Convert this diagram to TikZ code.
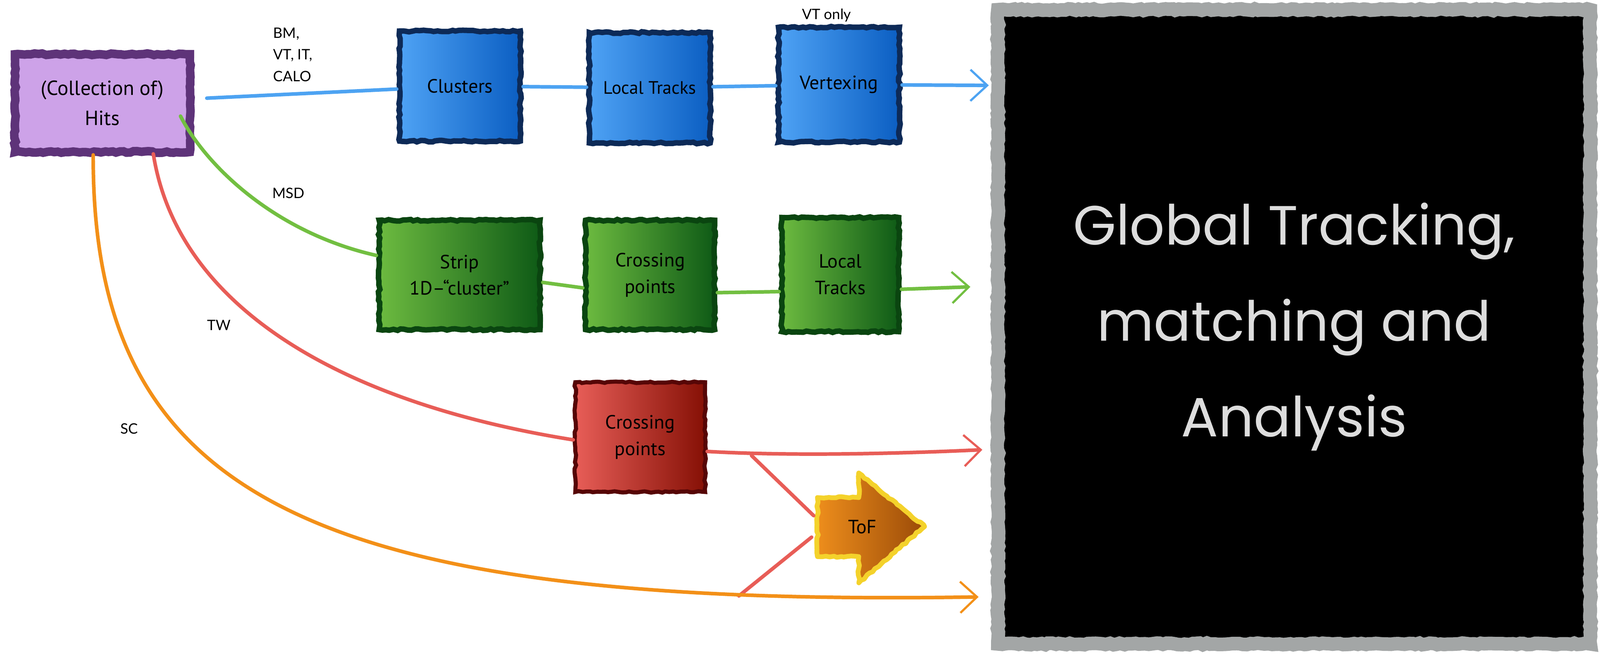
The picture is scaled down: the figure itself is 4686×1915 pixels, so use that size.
\documentclass[tikz,border=0pt]{standalone}
\usepackage{fontspec}
\setmainfont{PT Sans}
\newfontfamily\labelfont{Lato}
\newfontfamily\chalkfont{Poppins}
\usetikzlibrary{arrows.meta,decorations.pathmorphing,calc}
\definecolor{hitsfill}{HTML}{CDA2E8}
\definecolor{hitsborder}{HTML}{5E3379}
\definecolor{bluel}{HTML}{4FA3F5}
\definecolor{bluer}{HTML}{0B5EC2}
\definecolor{blueborder}{HTML}{0D2A57}
\definecolor{blueline}{HTML}{4DA3F2}
\definecolor{greenl}{HTML}{6DBB40}
\definecolor{greenr}{HTML}{0E5A16}
\definecolor{greenborder}{HTML}{0A4510}
\definecolor{greenline}{HTML}{72BF41}
\definecolor{redl}{HTML}{E85E58}
\definecolor{redr}{HTML}{851005}
\definecolor{redborder}{HTML}{560606}
\definecolor{redline}{HTML}{E85D57}
\definecolor{tofl}{HTML}{EE8E1C}
\definecolor{tofr}{HTML}{9B4B08}
\definecolor{tofborder}{HTML}{F4D22B}
\definecolor{orangeline}{HTML}{F39018}
\definecolor{framegray}{HTML}{A3A6A6}
\definecolor{chalk}{HTML}{DDDDDD}
\begin{document}
\begin{tikzpicture}[x=0.01cm,y=-0.01cm,
  rough/.style={decorate,decoration={random steps,segment length=3pt,amplitude=0.7pt}},
  box/.style={rough,shape=rectangle,align=center,text=black,inner sep=0pt,
    font=\fontsize{16}{22}\selectfont},
  hitsbox/.style={box,fill=hitsfill,draw=hitsborder,line width=0.25cm,
    minimum width=5.12cm,minimum height=2.86cm,font=\fontsize{17}{25}\selectfont},
  bluebox/.style={box,left color=bluel,right color=bluer,draw=blueborder,line width=0.16cm,
    minimum width=3.54cm,minimum height=3.22cm},
  greenbox/.style={box,left color=greenl,right color=greenr,draw=greenborder,line width=0.16cm,
    minimum width=3.78cm,minimum height=3.20cm},
  redbox/.style={box,left color=redl,right color=redr,draw=redborder,line width=0.12cm,
    minimum width=3.80cm,minimum height=3.21cm},
  tofshape/.style={rough,left color=tofl,right color=tofr,draw=tofborder,line width=0.14cm,line join=round},
  bigbox/.style={rough,shape=rectangle,fill=black,draw=framegray,line width=0.4cm,
    minimum width=17.34cm,minimum height=18.56cm,align=center,text=chalk,
    font=\chalkfont\fontsize{46}{80}\selectfont},
  lab/.style={font=\labelfont\fontsize{12}{18}\selectfont,align=left,inner sep=0pt,text=black},
  conn/.style={line width=3pt,line cap=round},
  tipb/.style={-{Straight Barb[length=14pt,width=26pt,line width=1.8pt]}}
]
\useasboundingbox (0,0) rectangle (4686,1915);

% nodes
\node[hitsbox] (hits) at (300,302) {(Collection of)\\Hits};
\node[bluebox] (clu) at (1347,252) {Clusters};
\node[bluebox,minimum height=3.23cm,font=\fontsize{15}{21}\selectfont] (ltb) at (1903,257) {Local Tracks};
\node[bluebox,minimum height=3.36cm] (vtx) at (2457,248) {Vertexing};
\node[greenbox,minimum width=4.71cm] (strip) at (1346,805) {Strip\\1D–“cluster”};
\node[greenbox] (cpg) at (1904,805) {Crossing\\points};
\node[greenbox,minimum width=3.42cm,minimum height=3.34cm] (ltg) at (2461,804) {Local\\Tracks};
\node[redbox] (cpr) at (1875,1280) {Crossing\\points};
\path[tofshape] (2394,1457) -- (2515,1457) -- (2515,1385) -- (2708,1542) -- (2515,1707) -- (2515,1630) -- (2394,1630) -- cycle;
\node[font=\fontsize{16}{22}\selectfont,text=black] (tof) at (2526,1543) {ToF};
\node[bigbox] (big) at (3790,957) {Global Tracking,\\matching and\\Analysis};

% labels
\node[lab,anchor=west] (lbm) at (800,160) {BM,\\VT, IT,\\CALO};
\node[lab] (lvt) at (2421,45) {VT only};
\node[lab] (lmsd) at (845,566) {MSD};
\node[lab] (ltw) at (641,952) {TW};
\node[lab] (lsc) at (379,1255) {SC};

% arrow end points
\coordinate (btip) at (2896,250);
\coordinate (gtip) at (2842,840);
\coordinate (rtip) at (2877,1317);
\coordinate (otip) at (2866,1748);
\coordinate (r1) at (2201,1334);
\coordinate (tofin1) at (2383,1510);
\coordinate (tofin2) at (2377,1573);
\coordinate (o1) at (2164,1745);

% blue chain
\draw[conn,blueline,shorten <=0.37cm] (hits) -- (clu);
\draw[conn,blueline] (clu) -- (ltb);
\draw[conn,blueline] (ltb) -- (vtx);
\draw[conn,blueline,tipb] (vtx) -- (btip);

% green chain
\draw[conn,greenline] ($(hits.east)+(-40,38)$) .. controls (600,480) and (800,680) .. ($(strip.west)+(0,-57)$);
\draw[conn,greenline] ($(strip.east)+(0,22)$) -- ($(cpg.west)+(0,38)$);
\draw[conn,greenline] ($(cpg.east)+(0,52)$) -- ($(ltg.west)+(0,50)$);
\draw[conn,greenline,tipb] ($(ltg.east)+(0,43)$) -- (gtip);

% red chain
\draw[conn,redline] ($(hits.south)+(149,-7)$) .. controls (520,900) and (1000,1180) .. ($(cpr.west)+(0,8)$);
\draw[conn,redline,tipb] ($(cpr.east)+(0,42)$) .. controls (2300,1335) and (2600,1330) .. (rtip);
\draw[conn,redline] (r1) -- (tofin1);
\draw[conn,redline] (tofin2) -- (o1);

% orange
\draw[conn,orangeline,tipb] ($(hits.south)+(-27,-4)$) .. controls (270,1450) and (900,1780) .. (otip);
\end{tikzpicture}
\end{document}
